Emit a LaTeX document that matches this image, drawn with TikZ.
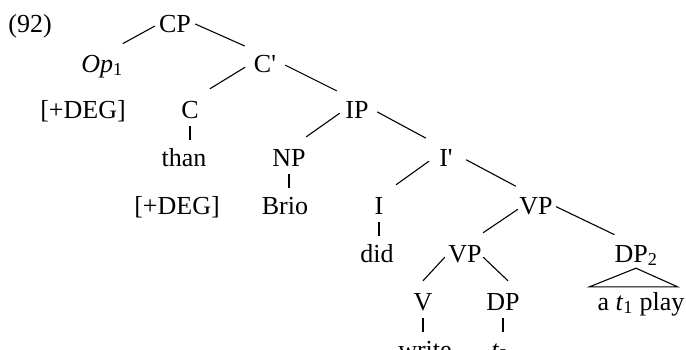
\documentclass[tikz,border=0pt]{standalone}
\usepackage{fontspec}
\setmainfont{Liberation Serif}[Ligatures=TeXOff]

% Text sitzt 5pt unter der Grundlinie des Knotens
\newcommand{\kt}[1]{\raisebox{-5pt}{#1}}

\tikzset{
    kat/.style={anchor=base, font=\fontsize{26}{31}\selectfont, inner xsep=0pt, inner ysep=0pt,
                minimum width=40pt, text height=24pt, text depth=0pt},
    ast/.style={line width=1.1pt},
}

\begin{document}
\begin{tikzpicture}[x=1pt,y=1pt]
        \useasboundingbox (0,0) rectangle (686,-349);

        % Beispielnummer und Knoten des Baums
        \node[kat] (ex)    at (30,-27)   {\kt{(92)}};
        \node[kat] (cp)    at (175,-27)  {\kt{CP}};
        \node[kat] (op)    at (102,-67)  {\kt{\textit{Op}\textsubscript{1}}};
        \node[kat] (cbar)  at (265,-67)  {\kt{C'}};
        \node[kat] (deg1)  at (83,-113)  {\kt{[+DEG]}};
        \node[kat] (c)     at (190,-113) {\kt{C}};
        \node[kat] (ip)    at (357,-113) {\kt{IP}};
        \node[kat] (than)  at (184,-161) {\kt{than}};
        \node[kat] (np)    at (289,-161) {\kt{NP}};
        \node[kat] (ibar)  at (446,-161) {\kt{I'}};
        \node[kat] (deg2)  at (177,-209) {\kt{[+DEG]}};
        \node[kat] (brio)  at (285,-209) {\kt{Brio}};
        \node[kat] (i)     at (379,-209) {\kt{I}};
        \node[kat] (vp)    at (536,-209) {\kt{VP}};
        \node[kat] (did)   at (377,-257) {\kt{did}};
        \node[kat] (vpb)   at (465,-257) {\kt{VP}};
        \node[kat] (dp2)   at (636,-257) {\kt{DP\textsubscript{2}}};
        \node[kat] (v)     at (423,-305) {\kt{V}};
        \node[kat] (dp)    at (503,-305) {\kt{DP}};
        \node[kat] (play)  at (641,-305) {\kt{a \textit{t}\textsubscript{1} play}};
        \node[kat] (write) at (425,-353) {\kt{write}};
        \node[kat] (t2)    at (500,-353) {\kt{\textit{t}\textsubscript{2}}};

        % Verzweigungen
        \foreach \a/\b in {cp/op, cp/cbar, cbar/c, cbar/ip, ip/np, ip/ibar, ibar/i, ibar/vp,
                           vp/vpb, vp/dp2} {
            \draw[ast] (\a) -- (\b);
        }
        \draw[ast] (vpb.south west) -- (v.north);
        \draw[ast] ([xshift=-2pt]vpb.south east) -- ([xshift=5pt]dp.north);

        % einfache Kanten nach unten
        \foreach \a/\b in {c/than, np/brio, i/did, v/write, dp/t2} {
            \draw[ast, shorten <=13pt, shorten >=-3pt] (\a) -- (\a |- \b.north);
        }

        % Dreieck
        \draw[ast] ([yshift=-11pt]dp2.south) -- ([xshift=-8pt,yshift=-6pt]play.north west)
            -- ([xshift=-7pt,yshift=-6pt]play.north east) -- cycle;

\end{tikzpicture}
\end{document}
